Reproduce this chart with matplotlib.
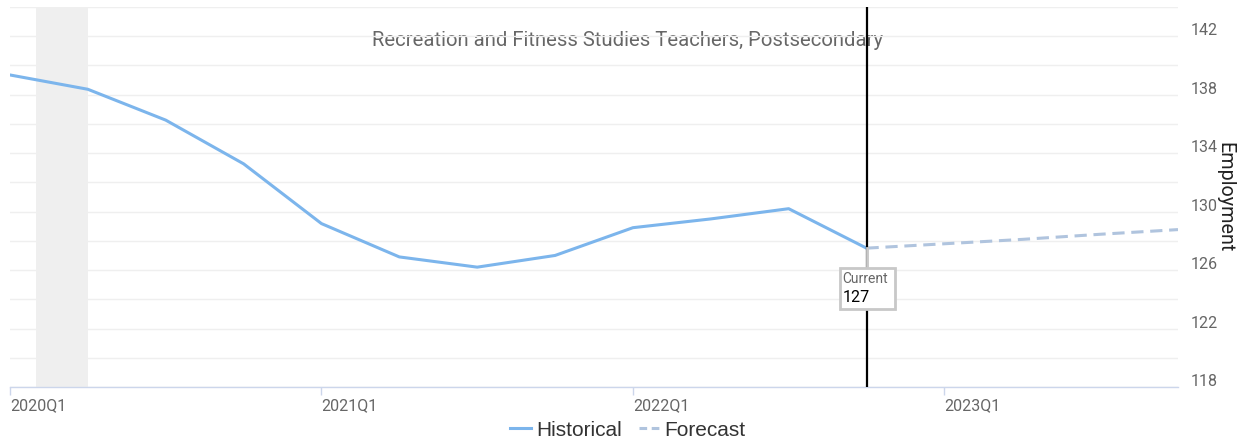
import matplotlib
matplotlib.use("Agg")
import matplotlib.pyplot as plt
from matplotlib.lines import Line2D
from matplotlib.patches import Rectangle
from matplotlib.transforms import ScaledTranslation

# Data (quarter index 0 = 2020Q1)
hist_q = [0, 1, 2, 3, 4, 5, 6, 7, 8, 9, 10, 11]
hist_vals = [139.35, 138.37, 136.26, 133.27, 129.18, 126.9, 126.2, 127.0, 128.9, 129.5, 130.2, 127.5]
fc_q = [11, 12, 13, 14, 15]
fc_vals = [127.5, 127.8, 128.1, 128.45, 128.77]
xtick_pos = [0, 4, 8, 12]
xtick_labels = ["2020Q1", "2021Q1", "2022Q1", "2023Q1"]
ytick_vals = [118, 122, 126, 130, 134, 138, 142]
recession = (1/3, 1.0)
current_q = 11
current_label = "127"
title = "Recreation and Fitness Studies Teachers, Postsecondary"

W, H = 1253, 440
fig = plt.figure(figsize=(W/100, H/100), dpi=100)
ax = fig.add_axes([10/W, 1-387/H, (1178-10)/W, (387-7)/H])
ax.set_xlim(0, 15)
ax.set_ylim(118, 144)

# gridlines
for v in range(118, 145, 2):
    ax.axhline(v, color="#efefef", lw=1, zorder=0)

ax.axvspan(*recession, color="#efefef", lw=0, zorder=0.5)

ax.plot(hist_q, hist_vals, color="#7cb5ec", lw=2.2, zorder=3, solid_capstyle="round")
ax.plot(fc_q, fc_vals, color="#b0c4de", lw=2.2, ls=(0, (4, 2.2)), zorder=3)

ax.axvline(current_q, color="black", lw=1.6, zorder=4)

for s in ["top", "left", "right"]:
    ax.spines[s].set_visible(False)
ax.spines["bottom"].set_color("#ccd6eb")
ax.spines["bottom"].set_linewidth(1)

ax.set_xticks(xtick_pos)
ax.set_xticklabels(xtick_labels, ha="left", fontfamily="Roboto", fontsize=11.5, color="#666666")
ax.tick_params(axis="x", length=6, width=1, color="#ccd6eb", pad=2, direction="out")
ax.yaxis.tick_right()
ax.set_yticks(ytick_vals)
ax.set_yticklabels([str(v) for v in ytick_vals], fontfamily="Roboto", fontsize=11.5, color="#666666")
ax.tick_params(axis="y", length=0, pad=9)
off = ScaledTranslation(0, 7/100, fig.dpi_scale_trans)
for lab in ax.get_yticklabels():
    lab.set_transform(lab.get_transform() + off)

fig.text(1225/W, 1-197/H, "Employment", rotation=-90, ha="center", va="center",
         fontfamily="Roboto", fontsize=14.2, color="#222222")

fig.text(628/W, 1-40/H, title, ha="center", va="center", fontfamily="Roboto", fontsize=14.6, color="#666666", zorder=1)
ax.set_zorder(2)
ax.patch.set_alpha(0)

# current annotation (offsets in pixels relative to the current point)
cur_val = hist_vals[hist_q.index(current_q)]
ptrans = fig.dpi_scale_trans + ScaledTranslation(current_q, cur_val, ax.transData)
px = lambda v: v / 100
ax.add_line(Line2D([0, 0], [0, px(-20)], transform=ptrans, color="#c8c8c8", lw=2, zorder=6))
ax.add_patch(Rectangle((px(-27), px(-61)), px(55), px(41), transform=ptrans,
                       fc="white", ec="#c8c8c8", lw=2, zorder=6))
ax.text(px(-24), px(-31), "Current", transform=ptrans, ha="left", va="center",
        fontfamily="Roboto", fontsize=10, color="#666666", zorder=7)
ax.text(px(-24), px(-49), current_label, transform=ptrans, ha="left", va="center",
        fontfamily="Roboto", fontsize=11.5, color="black", zorder=7)

handles = [Line2D([], [], color="#7cb5ec", lw=2.2),
           Line2D([], [], color="#b0c4de", lw=2.2, ls=(0, (2.5, 1.5)))]
fig.legend(handles, ["Historical", "Forecast"], loc="center", bbox_to_anchor=(628/W, 1-430/H),
           ncol=2, frameon=False, prop={"family": "Liberation Sans", "size": 15},
           handlelength=1.0, handletextpad=0.25, columnspacing=0.8, labelcolor="#333333")

fig.savefig("out.png", dpi=100, facecolor="white")
